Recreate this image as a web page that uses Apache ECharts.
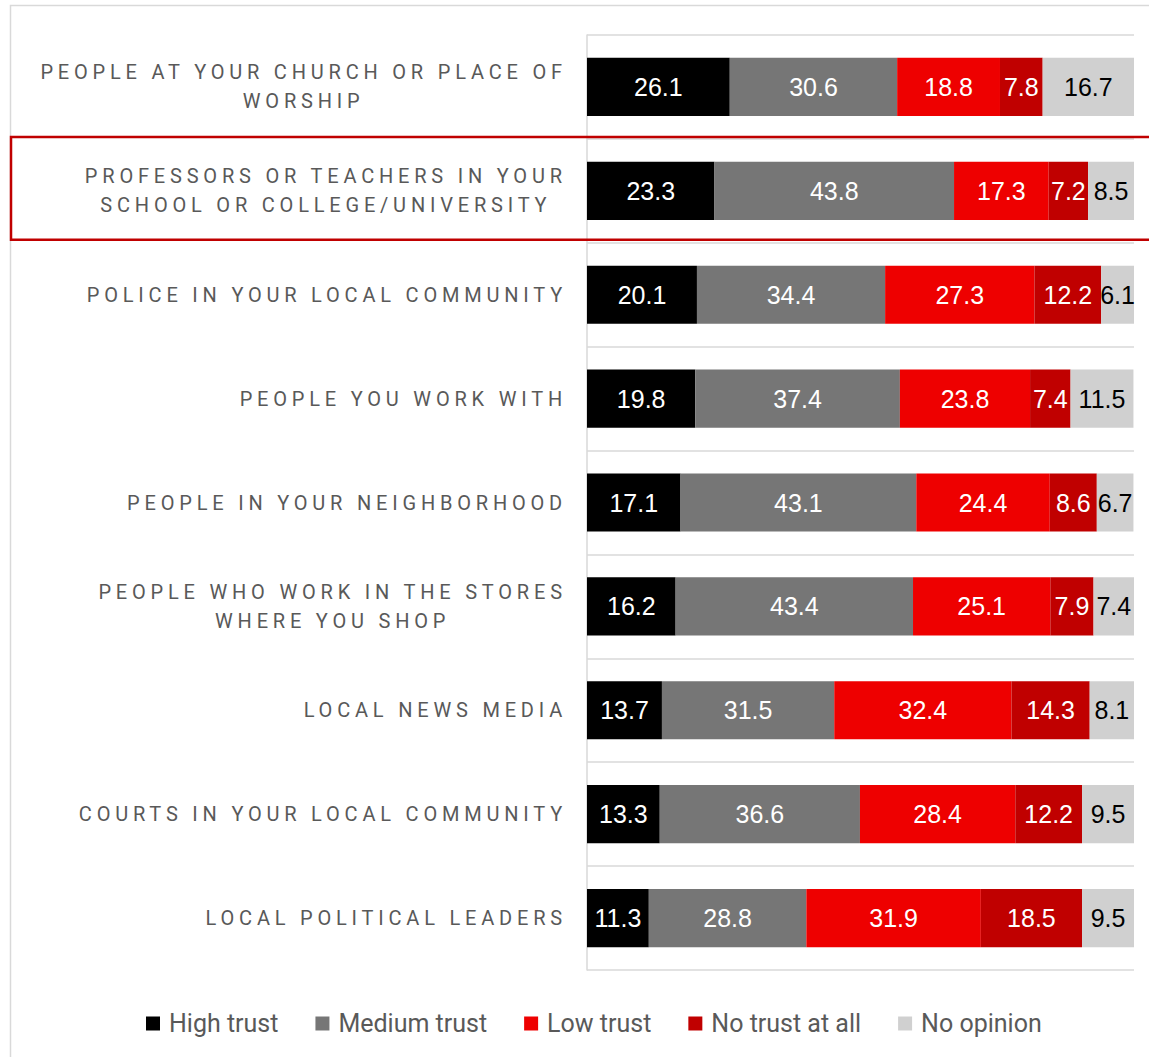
<!DOCTYPE html>
<html>
<head>
<meta charset="utf-8">
<script src="https://cdn.jsdelivr.net/npm/echarts@6/dist/echarts.min.js"></script>
<style>
  html, body { margin: 0; padding: 0; background: #ffffff; }
  #chart { width: 1149px; height: 1057px; }
  /* spaced capitals for the category names */
  #chart text[style*="20px"][style*="Roboto"] { letter-spacing: 4.8px; }
</style>
</head>
<body>
<div id="chart"></div>
<script>
// Survey rows, top to bottom
const categories = [
  'PEOPLE AT YOUR CHURCH OR PLACE OF\nWORSHIP',
  'PROFESSORS OR TEACHERS IN YOUR\nSCHOOL OR COLLEGE/UNIVERSITY',
  'POLICE IN YOUR LOCAL COMMUNITY',
  'PEOPLE YOU WORK WITH',
  'PEOPLE IN YOUR NEIGHBORHOOD',
  'PEOPLE WHO WORK IN THE STORES\nWHERE YOU SHOP',
  'LOCAL NEWS MEDIA',
  'COURTS IN YOUR LOCAL COMMUNITY',
  'LOCAL POLITICAL LEADERS'
];

const seriesNames = ['High trust', 'Medium trust', 'Low trust', 'No trust at all', 'No opinion'];

// Percent of respondents per trust level
const highTrust   = [26.1, 23.3, 20.1, 19.8, 17.1, 16.2, 13.7, 13.3, 11.3];
const mediumTrust = [30.6, 43.8, 34.4, 37.4, 43.1, 43.4, 31.5, 36.6, 28.8];
const lowTrust    = [18.8, 17.3, 27.3, 23.8, 24.4, 25.1, 32.4, 28.4, 31.9];
const noTrust     = [7.8, 7.2, 12.2, 7.4, 8.6, 7.9, 14.3, 12.2, 18.5];
const noOpinion   = [16.7, 8.5, 6.1, 11.5, 6.7, 7.4, 8.1, 9.5, 9.5];

const seriesValues = [highTrust, mediumTrust, lowTrust, noTrust, noOpinion];
const seriesColors = ['#000000', '#767676', '#EE0000', '#C00000', '#D0D0D0'];
const labelColors  = ['#ffffff', '#ffffff', '#ffffff', '#ffffff', '#000000'];

// Category names are drawn letter-spaced; text measuring has to know about it
const LABEL_FAMILY = 'Roboto';
const LABEL_SIZE = 20;
const LETTER_SPACING = 4.8;
const measureCtx = document.createElement('canvas').getContext('2d');
echarts.setPlatformAPI({
  measureText(text, font) {
    measureCtx.font = font;
    const m = measureCtx.measureText(text);
    let w = m.width;
    if (font.indexOf(LABEL_FAMILY) >= 0 && font.indexOf(LABEL_SIZE + 'px') >= 0) {
      w += LETTER_SPACING * Array.from(text).length;
    }
    return {
      width: w,
      actualBoundingBoxAscent: m.actualBoundingBoxAscent,
      actualBoundingBoxDescent: m.actualBoundingBoxDescent,
      fontBoundingBoxAscent: m.fontBoundingBoxAscent,
      fontBoundingBoxDescent: m.fontBoundingBoxDescent
    };
  }
});

const chart = echarts.init(document.getElementById('chart'), null, { renderer: 'svg' });

const gridLine = '#D9D9D9';

chart.setOption({
  animation: false,
  backgroundColor: '#ffffff',
  grid: {
    left: 587, right: 15, top: 35, bottom: 87,
    containLabel: false,
    outerBoundsMode: 'none'
  },
  legend: {
    data: seriesNames,
    left: 141,
    top: 1006,
    icon: 'rect',
    itemWidth: 14,
    itemHeight: 14,
    itemGap: 37,
    selectedMode: false,
    textStyle: { fontFamily: 'Roboto', fontSize: 25, color: '#595959', padding: [0, 0, 0, 4] }
  },
  xAxis: {
    type: 'value',
    min: 0,
    max: 100,
    show: false
  },
  yAxis: {
    type: 'category',
    inverse: true,
    data: categories,
    axisLine: { show: true, lineStyle: { color: gridLine, width: 1.5 } },
    axisTick: { show: false },
    splitLine: { show: true, lineStyle: { color: gridLine, width: 1.5 } },
    axisLabel: {
      margin: 20,
      align: 'right',
      formatter: v => v.split('\n').map(s => '{c|' + s + '}').join('\n'),
      rich: {
        c: {
          fontFamily: LABEL_FAMILY,
          fontSize: LABEL_SIZE,
          color: '#595959',
          align: 'center',
          lineHeight: 29
        }
      }
    }
  },
  series: seriesNames.map((name, i) => ({
    name: name,
    type: 'bar',
    stack: 'trust',
    barWidth: '56%',
    data: seriesValues[i],
    itemStyle: { color: seriesColors[i] },
    label: {
      show: true,
      position: 'inside',
      fontFamily: 'Liberation Sans',
      fontSize: 25,
      color: labelColors[i],
      formatter: p => p.value.toFixed(1)
    }
  }))
});

// Frame of the chart area and the outline around the highlighted row
const bandHeight = (1057 - 35 - 87) / categories.length;
const rowCenter = chart.convertToPixel({ yAxisIndex: 0 }, categories[1]);
chart.setOption({
  graphic: [
    {
      type: 'rect',
      silent: true,
      z: 0,
      shape: { x: 10.5, y: 5.5, width: 1200, height: 1100 },
      style: { fill: 'none', stroke: gridLine, lineWidth: 1.5 }
    },
    {
      type: 'rect',
      silent: true,
      z: 100,
      shape: { x: 11, y: rowCenter - bandHeight / 2 - 2, width: 1200, height: bandHeight - 1 },
      style: { fill: 'none', stroke: '#C00000', lineWidth: 2.5 }
    }
  ]
});
</script>
</body>
</html>
